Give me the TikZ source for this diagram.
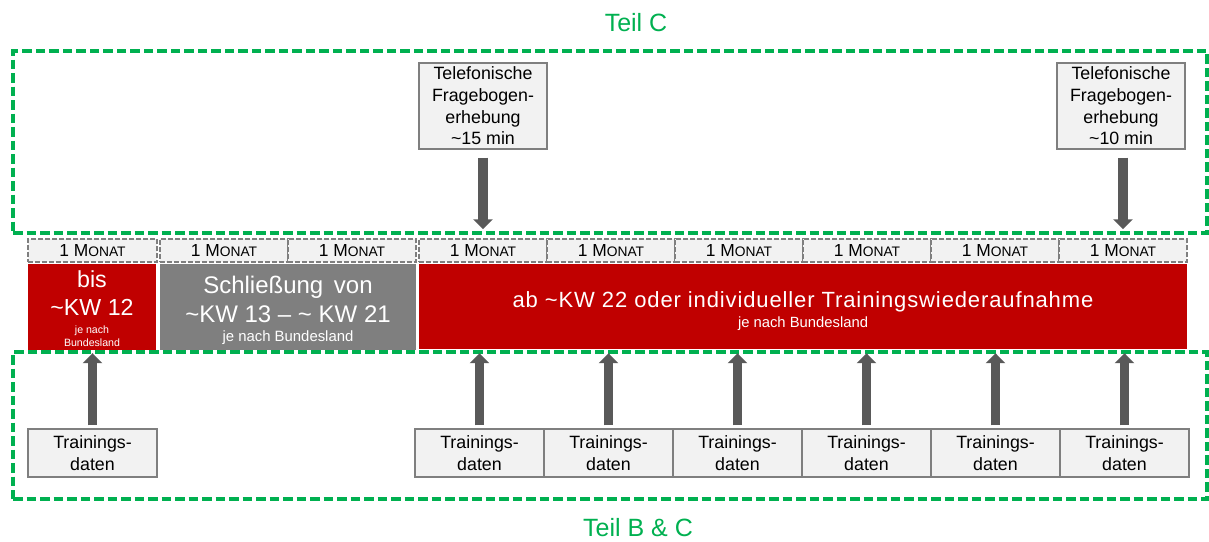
\documentclass[tikz,border=0pt]{standalone}
\usepackage{fontspec}
\setmainfont{Liberation Sans}
\usetikzlibrary{arrows.meta}
\definecolor{tgreen}{HTML}{00B050}
\definecolor{tred}{HTML}{C00000}
\definecolor{tgray}{HTML}{7F7F7F}
\definecolor{tlight}{HTML}{F2F2F2}
\definecolor{tarrow}{HTML}{595959}
\newcommand{\fsz}[2]{\fontsize{#1}{#2}\selectfont}
\newcommand{\tld}{\textasciitilde}
\newcommand{\monat}{1 M{\fsz{13.8}{16}ONAT}}
\begin{document}
\begin{tikzpicture}[x=1pt,y=-1pt,
  partbox/.style={draw=tgreen, line width=3.5pt, dash pattern=on 9.5pt off 4pt, inner sep=0pt},
  parttitle/.style={anchor=base, inner sep=0pt, text=tgreen, font=\fsz{25}{30}},
  monbox/.style={draw=tgray, fill=tlight, line width=1.5pt, dash pattern=on 5pt off 2pt,
    minimum width=128pt, minimum height=23pt, inner sep=0pt, font=\fsz{17.4}{20}},
  infobox/.style={draw=tgray, fill=tlight, line width=1.2pt, inner sep=0pt, align=center,
    font=\fsz{17.8}{21.6}, minimum width=128pt},
  phasebox/.style={inner sep=0pt, minimum height=86pt},
  wtxt/.style={anchor=base, inner sep=0pt, text=white},
  bigarrow/.style={draw=tarrow, line width=9.5pt, -{Triangle[length=10pt,width=19pt]}}
]
\useasboundingbox (0,0) rectangle (1209,541);
% part frames
\node[partbox, minimum width=1194pt, minimum height=182pt] (partC) at (610,142) {};
\node[partbox, minimum width=1194pt, minimum height=147pt] (partBC) at (610,425.5) {};
\node[parttitle] (titleC) at (636,31.7) {Teil C};
\node[parttitle] (titleBC) at (638,536.5) {Teil B \& C};
% month boxes
\node[monbox, minimum width=129pt] (m1) at (92.5,250.5) {\monat};
\node[monbox] (m2) at (224,250.5) {\monat};
\node[monbox] (m3) at (352,250.5) {\monat};
\foreach \i in {4,...,9}{
  \node[monbox] (m\i) at ({483+128*(\i-4)},250.5) {\monat};
}
% phase boxes
\node[phasebox, fill=tred, minimum width=128pt] (phA) at (92,307) {};
\node[phasebox, fill=tgray, minimum width=256pt] (phB) at (288,307) {};
\node[phasebox, fill=tred, minimum width=768pt, minimum height=85pt] (phC) at (803,306.5) {};
\node[wtxt, font=\fsz{23.2}{28}] (phA1) at (92,287) {bis};
\node[wtxt, font=\fsz{23.2}{28}] (phA2) at (92,315) {\tld KW 12};
\node[wtxt, font=\fsz{10.6}{13}] (phA3) at (92,333) {je nach};
\node[wtxt, font=\fsz{10.6}{13}] (phA4) at (92,346) {Bundesland};
\node[wtxt, font=\fsz{24}{29}] (phB1) at (288,293) {Schließung\hspace{4pt} von};
\node[wtxt, font=\fsz{24}{29}] (phB2) at (288,322) {\tld KW 13 – \tld\ KW 21};
\node[wtxt, font=\fsz{14.9}{18}] (phB3) at (288,341) {je nach Bundesland};
\node[wtxt, font=\fsz{22}{26}\addfontfeature{LetterSpace=4}] (phC1) at (803,307) {ab \tld KW 22 oder individueller Trainingswiederaufnahme};
\node[wtxt, font=\fsz{14.8}{18}] (phC2) at (803,327) {je nach Bundesland};
% questionnaire boxes
\node[infobox, minimum height=86pt] (tel1) at (483,106) {Telefonische\\Fragebogen-\\erhebung\\\tld 15 min};
\node[infobox, minimum height=86pt] (tel2) at (1121,106) {Telefonische\\Fragebogen-\\erhebung\\\tld 10 min};
% training data boxes
\node[infobox, minimum width=129pt, minimum height=48pt] (t0) at (92.5,453) {Trainings-\\daten};
\foreach \i in {1,...,6}{
  \node[infobox, minimum width=129pt, minimum height=48pt] (t\i) at ({479.5+129*(\i-1)},453) {Trainings-\\daten};
}
% arrows
\draw[bigarrow, shorten <=8pt, shorten >=9pt] (tel1.south -| m4.north) -- (m4.north);
\draw[bigarrow, shorten <=8pt, shorten >=9pt] (tel2.south -| m9.north) -- (m9.north);
\draw[bigarrow, shorten <=3pt, shorten >=3pt] (t0.north) -- (t0.north |- phA.south);
\foreach \i in {1,...,6}{
  \draw[bigarrow, shorten <=3pt, shorten >=4pt] (t\i.north) -- (t\i.north |- phC.south);
}
\end{tikzpicture}
\end{document}
